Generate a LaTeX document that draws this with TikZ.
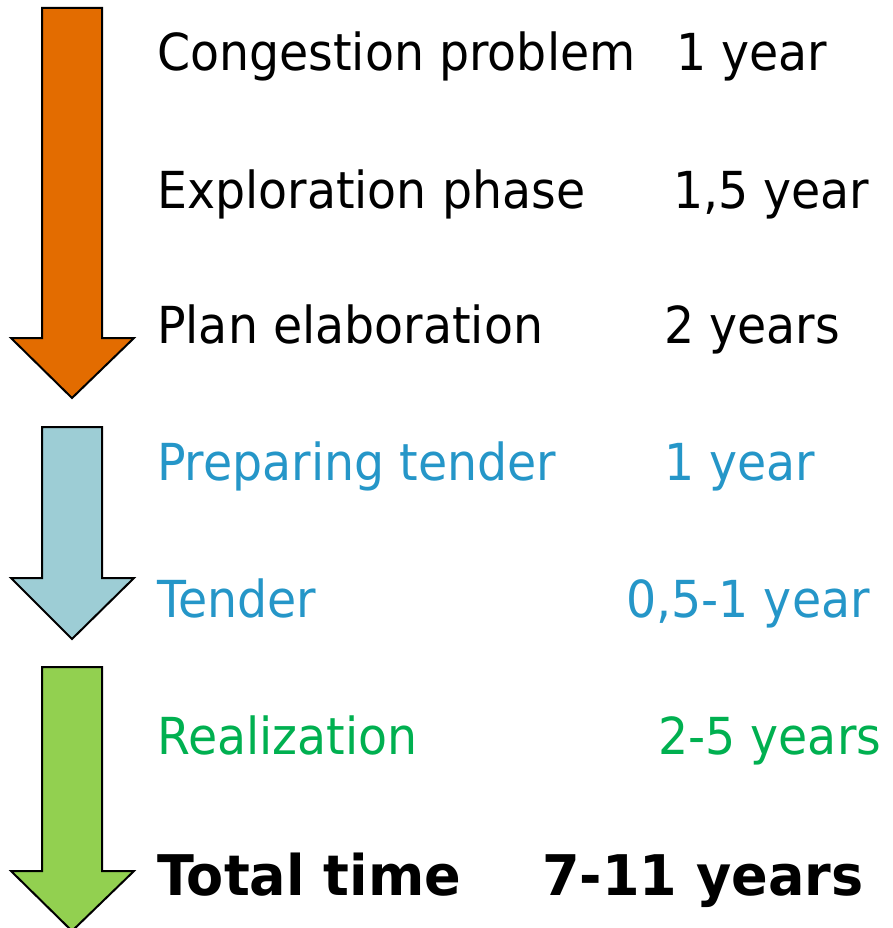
\documentclass[tikz,border=0pt]{standalone}
\usepackage{fontspec}
\setmainfont{DejaVu Sans}[FakeStretch=0.93]
\newfontfamily\totalfont{DejaVu Sans}[FakeStretch=0.965]
\definecolor{arrorange}{HTML}{E36C00}
\definecolor{arrblue}{HTML}{9DCDD5}
\definecolor{arrgreen}{HTML}{92D050}
\definecolor{txtblue}{HTML}{2596C8}
\definecolor{txtgreen}{HTML}{00B050}
\begin{document}
\begin{tikzpicture}[x=1pt,y=-1pt,
  arrowshape/.style={draw=black,line width=2pt,line join=miter},
  lbl/.style={anchor=base west,inner sep=0pt,font=\fontsize{51}{51}\selectfont},
  bold/.style={anchor=base west,inner sep=0pt,font=\fontsize{56}{56}\totalfont\bfseries}]
\useasboundingbox (0,0) rectangle (892,928);
% arrows
\draw[arrowshape,fill=arrorange] (42,8) -- (102,8) -- (102,338) -- (134,338) -- (72,398) -- (11,338) -- (42,338) -- cycle;
\draw[arrowshape,fill=arrblue] (42,427) -- (102,427) -- (102,578) -- (134,578) -- (72,639) -- (11,578) -- (42,578) -- cycle;
\draw[arrowshape,fill=arrgreen] (42,667) -- (102,667) -- (102,871) -- (134,871) -- (72,931) -- (11,871) -- (42,871) -- cycle;
% texts
\node[lbl] (t1) at (157,71) {Congestion problem};
\node[lbl] (d1) at (676,71) {1 year};
\node[lbl] (t2) at (157,208) {Exploration phase};
\node[lbl] (d2) at (673,208) {1,5 year};
\node[lbl] (t3) at (157,343) {Plan elaboration};
\node[lbl] (d3) at (664,343) {2 years};
\node[lbl,text=txtblue] (t4) at (157,480) {Preparing tender};
\node[lbl,text=txtblue] (d4) at (664,480) {1 year};
\node[lbl,text=txtblue] (t5) at (157,617) {Tender};
\node[lbl,text=txtblue] (d5) at (626,617) {0,5-1 year};
\node[lbl,text=txtgreen] (t6) at (157,754) {Realization};
\node[lbl,text=txtgreen] (d6) at (658,754) {2-5 years};
\node[bold] (t7) at (157,895) {Total time};
\node[bold] (d7) at (542,895) {7-11 years};
\end{tikzpicture}
\end{document}
